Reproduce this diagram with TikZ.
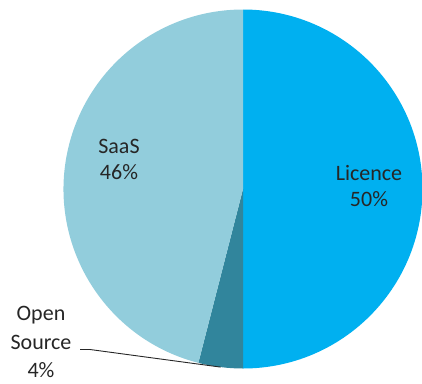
\documentclass[tikz,border=0pt]{standalone}
\usepackage{fontspec}
\setmainfont{Carlito}
\usetikzlibrary{calc}
\definecolor{licenceblue}{HTML}{00B0F0}
\definecolor{saasblue}{HTML}{92CDDC}
\definecolor{osteal}{HTML}{31859C}
\definecolor{txt}{HTML}{262626}
\begin{document}
\begin{tikzpicture}[x=1bp,y=-1bp,
  lbl/.style={text=txt,align=center,inner sep=0pt,anchor=base,font=\fontsize{22bp}{26bp}\selectfont},
  leader/.style={draw=txt,line width=0.9bp}]
\useasboundingbox (0,0) rectangle (422,384);
\def\R{179.5}
\coordinate (c) at (243,189);
\fill[licenceblue] (c) -- ++(-90:\R) arc[start angle=-90,end angle=90,radius=\R] -- cycle;
\fill[osteal] (c) -- ++(90:\R) arc[start angle=90,end angle=104.4,radius=\R] -- cycle;
\fill[saasblue] (c) -- ++(104.4:\R) arc[start angle=104.4,end angle=270,radius=\R] -- cycle;
\coordinate (osmid) at ($(c)+(97.2:\R)$);
\node[lbl] (lic) at (369,206.7) {Licence\\50\%};
\node[lbl] (saas) at (119,179.3) {SaaS\\46\%};
\node[lbl,font=\fontsize{22bp}{28.5bp}\selectfont] (os) at (41,377.5) {Open\\Source\\4\%};
\coordinate (ls) at (80,349.5);
\coordinate (lk) at (90,349.5);
\draw[leader] (ls) -- (lk) -- (osmid);
\end{tikzpicture}
\end{document}
